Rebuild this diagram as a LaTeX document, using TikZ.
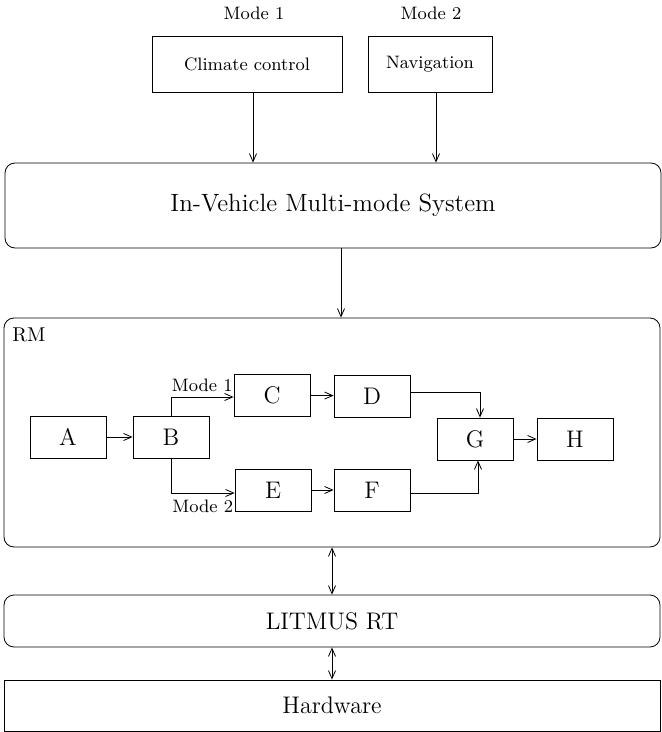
\documentclass[tikz,border=0pt]{standalone}
\usepackage{tikz}
\usetikzlibrary{arrows.meta, positioning, calc}

\begin{document}
\begin{tikzpicture}[
    x=0.5pt, y=-0.5pt,
    layer/.style={draw, rounded corners=5pt, minimum width=328pt, minimum height=#1, inner sep=0pt},
    appbox/.style={draw, minimum width=#1, minimum height=28pt, font=\small},
    task/.style={draw, minimum width=38pt, minimum height=21pt, font=\large},
    lbl/.style={font=\small, inner sep=1pt},
    arr/.style={-{Straight Barb[length=4pt, width=3.5pt]}},
    darr/.style={{Straight Barb[length=4pt, width=3.5pt]}-{Straight Barb[length=4pt, width=3.5pt]}}
]
    \useasboundingbox (0,0) rectangle (662,732);

    % Applications
    \node[lbl] (mode1lbl) at (254, 13) {Mode 1};
    \node[lbl] (mode2lbl) at (431, 13) {Mode 2};
    \node[appbox=95pt] (climate) at (247, 64) {Climate control};
    \node[appbox=62pt] (navi) at (430, 64) {Navigation};

    % Layers
    \node[layer=42.5pt, font=\fontsize{12.5}{15}\selectfont] (sys) at (333, 205.5) {In-Vehicle Multi-mode System};
    \node[layer=114.5pt] (rm) at (332, 432.5) {};
    \node[anchor=west, inner sep=0pt] (rmlbl) at (12, 335) {RM};
    \node[layer=26pt, font=\large] (litmus) at (332, 621) {LITMUS RT};
    \node[layer=25.5pt, rounded corners=0pt, font=\large] (hw) at (332, 705.5) {Hardware};

    % Tasks inside RM
    \node[task] (A) at (68, 437) {A};
    \node[task] (B) at (171, 437) {B};
    \node[task] (C) at (272, 395) {C};
    \node[task] (D) at (372, 396) {D};
    \node[task] (E) at (273, 490) {E};
    \node[task] (F) at (372, 490) {F};
    \node[task] (G) at (475, 439) {G};
    \node[task] (H) at (575, 439) {H};

    % Connections
    \draw[arr] ([xshift=3pt]climate.south) -- ([xshift=3pt]climate.south |- sys.north);
    \draw[arr] ([xshift=3pt]navi.south) -- ([xshift=3pt]navi.south |- sys.north);
    \draw[arr] ([xshift=4pt]sys.south) -- ([xshift=4pt]sys.south |- rm.north);
    \draw[darr] (rm.south) -- (litmus.north);
    \draw[darr] (litmus.south) -- (hw.north);

    \draw[arr] (A) -- (B);
    \draw[arr] (B.north) |- node[lbl, pos=0.75, above, yshift=1.5pt] {Mode 1} ([yshift=-1pt]C.west);
    \draw[arr] (B.south) |- node[lbl, pos=0.75, below, yshift=-2.5pt] {Mode 2} ([yshift=-1.5pt]E.west);
    \draw[arr] (C) -- (D);
    \draw[arr] (E) -- (F);
    \draw[arr] ([yshift=2pt]D.east) -| ([xshift=2.5pt]G.north);
    \draw[arr] ([yshift=-1.5pt]F.east) -| ([xshift=1.5pt]G.south);
    \draw[arr] (G) -- (H);

\end{tikzpicture}
\end{document}
